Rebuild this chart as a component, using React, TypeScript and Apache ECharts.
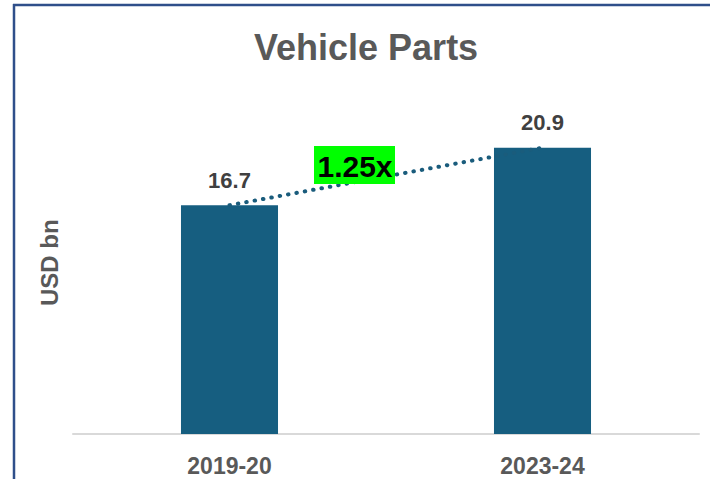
import React, { useEffect, useRef } from "react";
import * as echarts from "echarts";

const categories = ["2019-20", "2023-24"];
const values = [16.7, 20.9];
const growthLabel = "1.25x";
const titleText = "Vehicle Parts";
const yAxisName = "USD bn";

export default function App() {
  const ref = useRef<HTMLDivElement>(null);
  useEffect(() => {
    if (!ref.current) return;
    const chart = echarts.init(ref.current, undefined, { renderer: "svg" });
    const font = "'Liberation Sans', Arial, sans-serif";
    chart.setOption({
      animation: false,
      backgroundColor: "#ffffff",
      title: {
        text: titleText,
        left: 254,
        top: 29,
        padding: 0,
        textStyle: { fontFamily: font, fontWeight: "bold", fontSize: 36, color: "#595959" },
      },
      grid: { left: 73, right: 11, top: 91.5, bottom: 45 },
      xAxis: {
        type: "category",
        data: categories,
        axisLine: { show: true, lineStyle: { color: "#D9D9D9", width: 2 } },
        axisTick: { show: false },
        axisLabel: { margin: 20, fontFamily: font, fontWeight: "bold", fontSize: 23, color: "#595959" },
      },
      yAxis: {
        type: "value",
        min: 0,
        max: 25,
        axisLine: { show: false },
        axisTick: { show: false },
        axisLabel: { show: false },
        splitLine: { show: false },
        name: yAxisName,
        nameLocation: "middle",
        nameRotate: 90,
        nameGap: 12,
        nameTextStyle: { fontFamily: font, fontWeight: "bold", fontSize: 24, color: "#595959" },
      },
      series: [
        {
          type: "bar",
          data: values,
          barWidth: "31%",
          itemStyle: { color: "#165E80" },
          label: {
            show: true,
            position: "top",
            distance: 14,
            fontFamily: font,
            fontWeight: "bold",
            fontSize: 22,
            color: "#404040",
            formatter: (p: any) => p.value.toFixed(1),
          },
          z: 2,
        },
        {
          type: "line",
          data: values,
          symbol: "none",
          lineStyle: { color: "#1A5C7C", width: 4, type: [0.5, 8], cap: "round" },
          z: 3,
        },
      ],
      graphic: [
        { type: "line", shape: { x1: 13, y1: 5, x2: 710, y2: 5 }, style: { stroke: "#2F4F8A", lineWidth: 2.5 }, z: 10 },
        { type: "line", shape: { x1: 14, y1: 4, x2: 14, y2: 479 }, style: { stroke: "#2F4F8A", lineWidth: 2.5 }, z: 10 },
        { type: "rect", shape: { x: 314, y: 146, width: 81, height: 38 }, style: { fill: "#00FF00" }, z: 20 },
        {
          type: "text",
          x: 355,
          y: 166,
          style: {
            text: growthLabel,
            fill: "#000000",
            font: "bold 30px 'Liberation Sans', Arial, sans-serif",
            textAlign: "center",
            textVerticalAlign: "middle",
          },
          z: 21,
        },
      ],
    });
    return () => chart.dispose();
  }, []);
  return <div ref={ref} style={{ width: 710, height: 479, position: "absolute", left: 0, top: 0 }} />;
}
